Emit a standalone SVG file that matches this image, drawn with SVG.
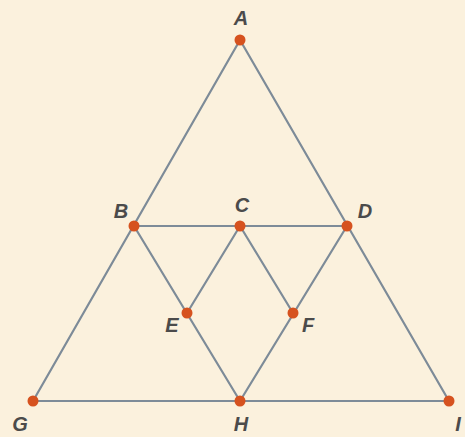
<svg xmlns="http://www.w3.org/2000/svg" width="465" height="437" viewBox="0 0 465 437">
<style>
.e{stroke:#7d8b98;stroke-width:2.2;fill:none;stroke-linecap:round}
.p{fill:#d6521f}
.t{font-family:"Liberation Sans",Arial,sans-serif;font-size:20px;font-weight:bold;font-style:italic;fill:#4b4b4b;text-anchor:middle}
</style>
<rect width="465" height="437" fill="#fbf1dd"/>
<g id="connectors">
<line class="e" x1="240" y1="40" x2="33" y2="401"/>
<line class="e" x1="240" y1="40" x2="449" y2="401"/>
<line class="e" x1="33" y1="401" x2="449" y2="401"/>
<line class="e" x1="134" y1="226" x2="347" y2="226"/>
<line class="e" x1="134" y1="226" x2="240" y2="401"/>
<line class="e" x1="347" y1="226" x2="240" y2="401"/>
<line class="e" x1="240" y1="226" x2="187" y2="313"/>
<line class="e" x1="240" y1="226" x2="293" y2="313"/>
</g>
<g id="A"><circle class="p" cx="240" cy="40" r="5.5"/><text class="t" x="241" y="25">A</text></g>
<g id="B"><circle class="p" cx="134" cy="226" r="5.5"/><text class="t" x="121" y="218">B</text></g>
<g id="C"><circle class="p" cx="240" cy="226" r="5.5"/><text class="t" x="242" y="212">C</text></g>
<g id="D"><circle class="p" cx="347" cy="226" r="5.5"/><text class="t" x="365" y="218">D</text></g>
<g id="E"><circle class="p" cx="187" cy="313" r="5.5"/><text class="t" x="172" y="332">E</text></g>
<g id="F"><circle class="p" cx="293" cy="313" r="5.5"/><text class="t" x="308" y="332">F</text></g>
<g id="G"><circle class="p" cx="33" cy="401" r="5.5"/><text class="t" x="20" y="431">G</text></g>
<g id="H"><circle class="p" cx="240" cy="401" r="5.5"/><text class="t" x="241" y="431">H</text></g>
<g id="I"><circle class="p" cx="449" cy="401" r="5.5"/><text class="t" x="458" y="431">I</text></g>
</svg>
